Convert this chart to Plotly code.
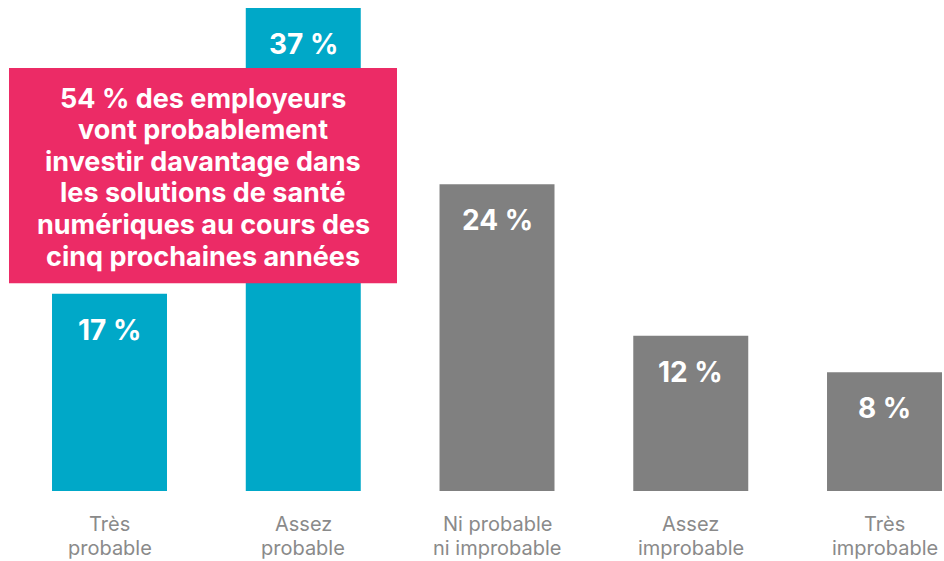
import plotly.graph_objects as go

cat_line1 = ["Très", "Assez", "Ni probable", "Assez", "Très"]
cat_line2 = ["probable", "probable", "ni improbable", "improbable", "improbable"]
values = [15.1, 37.0, 23.5, 11.9, 9.1]          # bar heights as drawn
value_labels = ["17 %", "37 %", "24 %", "12 %", "8 %"]
colors = ["#00A8C8", "#00A8C8", "#808080", "#808080", "#808080"]
callout_lines = ["54 % des employeurs", "vont probablement", "investir davantage dans",
                 "les solutions de santé", "numériques au cours des", "cinq prochaines années"]

W, H = 944, 561
plot_h = 490.7

xs = list(range(len(values)))
fig = go.Figure(go.Bar(x=xs, y=values, marker=dict(color=colors, line=dict(width=0)),
                       width=0.5935, hoverinfo="skip"))

for i, (v, t) in enumerate(zip(values, value_labels)):
    fig.add_annotation(x=i, y=v, xref="x", yref="y", text=t, showarrow=False,
                       yanchor="middle", yshift=-36,
                       font=dict(family="Inter", size=28, color="white", weight="bold"))
lab_font = dict(family="Inter", size=20, color="#8a8a8a")
for i, (l1, l2) in enumerate(zip(cat_line1, cat_line2)):
    fig.add_annotation(x=i, y=(plot_h - 523.5) / plot_h, xref="x", yref="paper", text=l1,
                       showarrow=False, yanchor="middle", borderpad=0, font=lab_font)
    fig.add_annotation(x=i, y=(plot_h - 561) / plot_h, xref="x", yref="paper", text=l2,
                       showarrow=False, yanchor="bottom", borderpad=0, font=lab_font)

fig.add_shape(type="rect", xref="paper", yref="paper",
              x0=9 / W, x1=397 / W, y0=(plot_h - 283) / plot_h, y1=(plot_h - 68) / plot_h,
              fillcolor="#EC2B66", line=dict(width=0), layer="above")
for k, line in enumerate(callout_lines):
    py = 98 + 31.6 * k
    fig.add_annotation(x=203 / W, y=(plot_h - py) / plot_h, xref="paper", yref="paper",
                       text=line, showarrow=False, xanchor="center", yanchor="middle",
                       font=dict(family="Inter", size=27, color="white", weight="bold"))

fig.update_layout(
    width=W, height=H, margin=dict(l=0, r=0, t=0, b=H - plot_h),
    paper_bgcolor="white", plot_bgcolor="white", showlegend=False,
    xaxis=dict(range=[-0.5652, 4.307], visible=False, fixedrange=True),
    yaxis=dict(range=[0, 37.61], visible=False, fixedrange=True),
)
fig.write_html("out.html", config={"displayModeBar": False},
               post_script="document.body.style.margin='0';document.body.style.overflow='hidden';")
